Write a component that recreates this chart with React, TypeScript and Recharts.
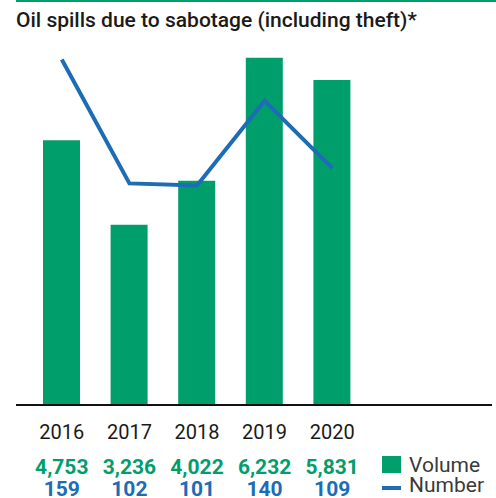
import { ComposedChart, Bar, Line, XAxis, YAxis } from "recharts";

const years = ["2016", "2017", "2018", "2019", "2020"];
const volume = [4753, 3236, 4022, 6232, 5831];
const number = [159, 102, 101, 140, 109];

const GREEN = "#009e6b";
const BLUE = "#1d6cb6";
const FONT = "Roboto, 'Noto Sans', sans-serif";

const data = years.map((year, i) => ({ year, volume: volume[i], number: number[i] }));

function YearTick(props: any) {
  const { x, y, payload } = props;
  const i = years.indexOf(payload.value);
  return (
    <g fontFamily={FONT} textAnchor="middle">
      <text x={x} y={y + 34} fontSize={20} fill="#1a1a1a">{payload.value}</text>
      <text x={x} y={y + 69} fontSize={21} fontWeight={700} fill={GREEN}>
        {volume[i].toLocaleString("en-US")}
      </text>
      <text x={x} y={y + 91} fontSize={21} fontWeight={700} fill={BLUE}>{number[i]}</text>
    </g>
  );
}

export default function App() {
  return (
    <div style={{ position: "absolute", left: 0, top: 0, width: 496, height: 498, background: "#fff", fontFamily: FONT }}>
      <div style={{ position: "absolute", left: 16, top: 0, width: 480, height: 2, background: GREEN }} />
      <div style={{ position: "absolute", left: 16, top: 8, fontSize: 21, fontWeight: 500, color: "#1a1a1a", whiteSpace: "nowrap" }}>
        Oil spills due to sabotage (including theft)*
      </div>
      <ComposedChart width={496} height={498} data={data} margin={{ top: 40, right: 4, bottom: 0, left: 16 }}>
        <XAxis
          dataKey="year"
          height={93}
          padding={{ left: 12, right: 126 }}
          axisLine={{ stroke: "#111", strokeWidth: 2 }}
          tickLine={false}
          tickSize={0}
          tickMargin={0}
          tick={<YearTick />}
          interval={0}
        />
        <YAxis yAxisId="left" hide domain={[0, 6550]} />
        <YAxis yAxisId="right" hide orientation="right" domain={[0, 168]} />
        <Bar yAxisId="left" dataKey="volume" fill={GREEN} barSize={37} isAnimationActive={false} />
        <Line
          yAxisId="right"
          dataKey="number"
          type="linear"
          stroke={BLUE}
          strokeWidth={4}
          dot={false}
          isAnimationActive={false}
        />
      </ComposedChart>
      <div style={{ position: "absolute", left: 382, top: 456, width: 19, height: 17, background: GREEN }} />
      <div style={{ position: "absolute", left: 409, top: 455, fontSize: 21, color: "#3a3a3a", lineHeight: "20px" }}>Volume</div>
      <div style={{ position: "absolute", left: 382, top: 486, width: 19, height: 4, background: BLUE }} />
      <div style={{ position: "absolute", left: 409, top: 475, fontSize: 21, color: "#3a3a3a", lineHeight: "20px" }}>Number</div>
    </div>
  );
}
